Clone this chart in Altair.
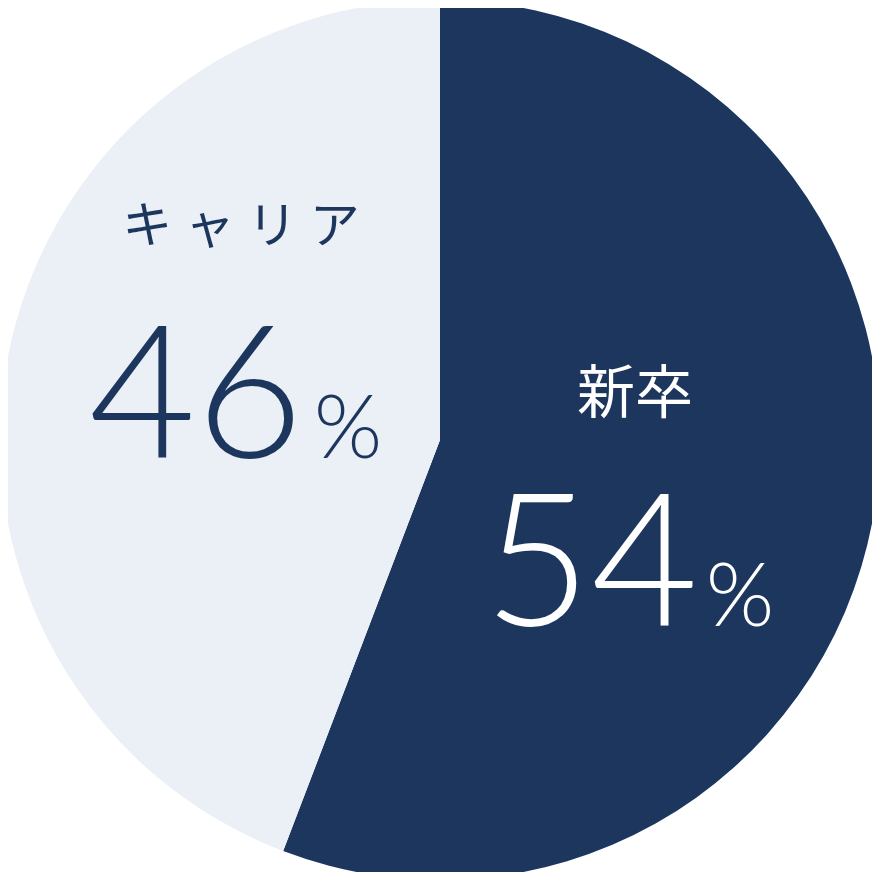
import altair as alt
import pandas as pd

# Data
categories = ["新卒", "キャリア"]
slice_share = [55.8, 44.2]        # angular share as drawn
label_values = ["54", "46"]       # printed percentages
colors = ["#1d365e", "#ebf0f7"]
text_colors = ["#ffffff", "#1d365e"]

df = pd.DataFrame({"cat": categories, "share": slice_share, "idx": [0, 1]})

pie = alt.Chart(df).mark_arc(radius=440).encode(
    theta=alt.Theta("share:Q", stack=True),
    order=alt.Order("idx:Q"),
    color=alt.Color("cat:N", scale=alt.Scale(domain=categories, range=colors), legend=None),
    x=alt.value(432),
    y=alt.value(432),
)

def txt(text, x, y, size, color, font, weight=400, baseline="alphabetic"):
    return alt.Chart(pd.DataFrame({"t": [text]})).mark_text(
        font=font, fontSize=size, fontWeight=weight, color=color,
        align="center", baseline=baseline,
    ).encode(text="t:N", x=alt.value(x), y=alt.value(y))

cjk = "Noto Sans CJK JP"
num = "Lato"
spaced = "\u2005".join(categories[1])

layers = [
    pie,
    txt(categories[0], 627, 388, 58, text_colors[0], cjk, 400, "middle"),
    txt(label_values[0], 583, 618, 185, text_colors[0], num, 300),
    txt("%", 732, 618, 88, text_colors[0], num, 300),
    txt(spaced, 233, 220, 50, text_colors[1], cjk, 400, "middle"),
    txt(label_values[1], 188, 450, 185, text_colors[1], num, 300),
    txt("%", 340, 450, 88, text_colors[1], num, 300),
]

chart = alt.layer(*layers).properties(
    width=864, height=864, padding=0,
    autosize=alt.AutoSizeParams(type="none"),
).configure_view(stroke=None)

chart.save("out.html", embed_options={"renderer": "svg", "actions": False})
